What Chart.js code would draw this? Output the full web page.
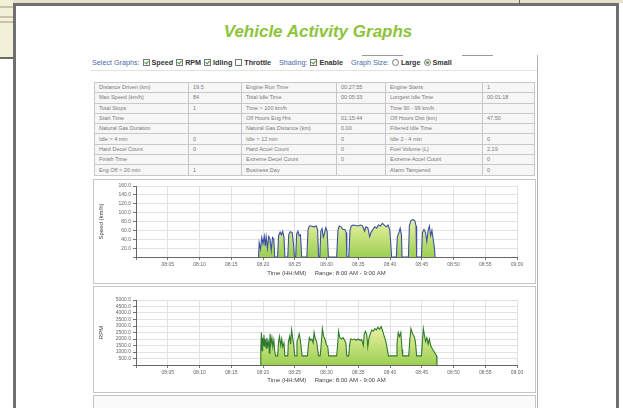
<!DOCTYPE html>
<html><head><meta charset="utf-8">
<script src="https://cdn.jsdelivr.net/npm/chart.js@4/dist/chart.umd.min.js"></script>
<style>
body{margin:0;width:623px;height:408px;overflow:hidden;background:#fff;font-family:"Liberation Sans",Arial,sans-serif;position:relative}
.a{position:absolute}
#frame{left:13px;top:3px;width:606px;height:430px;border:3px solid #707070;box-sizing:border-box;background:#fff}
#title{left:0;width:636px;top:22px;text-align:center;font-weight:bold;font-style:italic;font-size:17px;color:#8cc43c}
#sel{left:92px;top:58px;font-size:7.2px;white-space:nowrap;color:#333;letter-spacing:0}
#sel .b{color:#4a6aa8}
#sel .l{font-weight:bold;color:#333}
#sel .g{display:inline-block;width:8px}
.cb{display:inline-block;width:5px;height:5px;border:1px solid #777;vertical-align:-1px;margin:0 2px 0 3px;position:relative;background:#fff}
.cb.on::after{content:"";position:absolute;left:1px;top:0px;width:2px;height:3px;border:solid #3c9a3c;border-width:0 1px 1px 0;transform:rotate(40deg)}
.rb{display:inline-block;width:5px;height:5px;border:1px solid #777;border-radius:50%;vertical-align:-1px;margin:0 2px 0 3px;position:relative}
.rb.on::after{content:"";position:absolute;left:1px;top:1px;width:3px;height:3px;border-radius:50%;background:#5aa04a}
table{border-collapse:collapse;position:absolute;left:94px;top:82px;width:440px;table-layout:fixed;border:1px solid #b8b8b8}
td{border:1px solid #c8c8c8;height:9.3px;padding:0 0 0 4px;font-size:5.5px;color:#7a7a7a;white-space:nowrap;overflow:hidden;background:#f6f6f6;line-height:9px}
.panel{border:1px solid #c6c6c6;background:#fff;box-sizing:border-box}
</style></head>
<body>
<div class="a" style="left:0;top:0;width:623px;height:3px;background:#e6e2cc"></div>
<div class="a" style="left:519px;top:0;width:1px;height:3px;background:#666"></div>
<div class="a" style="left:0;top:0;width:13px;height:57px;background:#f3f0d8"></div>
<div class="a" style="left:0;top:6px;width:13px;height:2px;background:#c8c4aa"></div>
<div class="a" style="left:0;top:16px;width:13px;height:2px;background:#c8c4aa"></div>
<div class="a" style="left:0;top:21px;width:13px;height:2px;background:#c8c4aa"></div>
<div class="a" style="left:0;top:57px;width:13px;height:2px;background:#6a6a6a"></div>
<div class="a" id="frame"></div>
<div class="a" id="title">Vehicle Activity Graphs</div>
<div class="a" style="left:362px;top:55px;width:41px;height:1px;background:#9a9a9a"></div>
<div class="a" style="left:462px;top:55px;width:31px;height:1px;background:#9a9a9a"></div>
<div class="a" style="left:537px;top:55px;width:1px;height:360px;background:#b0b0b0"></div>
<div class="a" style="left:90px;top:70px;width:447px;height:1px;background:#e2e2e2"></div>
<div class="a" id="sel"><span class="b">Select Graphs:</span><span class="cb on"></span><span class="l">Speed</span><span class="cb on"></span><span class="l">RPM</span><span class="cb on"></span><span class="l">Idling</span><span class="cb"></span><span class="l">Throttle</span><span class="g"></span><span class="b">Shading:</span><span class="cb on"></span><span class="l">Enable</span><span class="g"></span><span class="b">Graph Size:</span><span class="rb"></span><span class="l">Large</span><span class="rb on"></span><span class="l">Small</span></div>
<table id="stats"><colgroup><col style="width:94px"><col style="width:53px"><col style="width:95px"><col style="width:49px"><col style="width:97px"><col style="width:52px"></colgroup><tbody></tbody></table>
<div class="a panel" style="left:93px;top:179px;width:443px;height:105px"></div>
<div class="a panel" style="left:93px;top:286px;width:443px;height:107px"></div>
<div class="a panel" style="left:93px;top:395px;width:443px;height:30px;background:#fafafa"></div>
<div class="a" style="left:94px;top:180px;width:441px;height:102px"><canvas id="c1"></canvas></div>
<div class="a" style="left:94px;top:288px;width:441px;height:103px"><canvas id="c2"></canvas></div>
<script>
// ---- table data ----
const statLabels1 = ["Distance Driven (km)","Max Speed (km/h)","Total Stops","Start Time","Natural Gas Duration","Idle > 4 min","Hard Decel Count","Finish Time","Eng Off > 20 min"];
const statValues1 = ["19.5","84","1","","","0","0","","1"];
const statLabels2 = ["Engine Run Time","Total Idle Time","Time > 100 km/h","Off Hours Eng Hrs","Natural Gas Distance (km)","Idle > 12 min","Hard Accel Count","Extreme Decel Count","Business Day"];
const statValues2 = ["00:27:55","00:05:33","","01:15:44","0.00","0","0","0",""];
const statLabels3 = ["Engine Starts","Longest Idle Time","Time 90 - 99 km/h","Off Hours Dist (km)","Filtered Idle Time","Idle 2 - 4 min","Fuel Volume (L)","Extreme Accel Count","Alarm Tampered"];
const statValues3 = ["1","00:01:18","","47.50","","0","2.19","0","0"];

// ---- chart data (minutes after 08:00) ----
const timeTickLabels = ["08:05","08:10","08:15","08:20","08:25","08:30","08:35","08:40","08:45","08:50","08:55","09:00"];
const speedTickLabels = ["20.0","40.0","60.0","80.0","100.0","120.0","140.0","160.0"];
const rpmTickLabels = ["500.0","1000.0","1500.0","2000.0","2500.0","3000.0","3500.0","4000.0","4500.0","5000.0"];

const speedTimes = [19.3,19.4,19.6,19.8,20.0,20.2,20.35,20.5,20.7,20.9,21.1,21.3,21.5,21.7,21.85,22.3,22.45,22.7,22.9,23.1,23.3,23.45,23.9,24.05,24.3,24.6,24.8,24.95,25.15,25.3,25.5,25.7,25.9,26.1,26.9,27.1,27.3,27.6,28.0,28.4,28.6,28.75,28.95,29.1,29.3,29.5,29.7,29.9,30.1,30.3,31.6,31.8,32.0,32.3,32.6,32.9,33.1,33.2,33.5,33.7,33.9,34.2,34.6,35.0,35.3,35.6,35.8,36.0,36.2,36.5,36.8,37.0,37.3,37.6,37.9,38.2,38.5,38.8,39.1,39.4,39.7,39.95,40.1,40.25,41.0,41.15,41.4,41.6,41.8,41.9,42.9,43.05,43.3,43.6,43.9,44.1,44.2,44.95,45.1,45.35,45.6,45.8,46.0,46.2,46.4,46.6,46.8,47.0,47.1];
const speedValues = [0,32,18,44,30,47,25,46,20,46,40,15,44,40,0,0,48,56,50,58,45,0,0,50,57,55,30,0,0,52,58,48,50,0,0,62,70,70,68,70,60,0,0,58,64,45,55,66,58,0,0,60,70,68,62,62,55,0,0,60,70,72,71,70,72,71,66,58,68,66,46,55,62,68,65,72,70,76,72,68,72,62,35,0,0,45,55,65,50,0,0,70,82,84,82,70,0,0,55,62,55,35,60,70,48,60,40,20,0];

const rpmTimes = [19.6,19.65,19.75,19.85,19.95,20.05,20.15,20.25,20.35,20.5,20.6,20.75,20.9,21.0,21.1,21.25,21.4,21.55,21.7,21.85,22.0,22.3,22.45,22.6,22.8,22.95,23.1,23.3,23.45,23.9,24.0,24.2,24.35,24.5,24.7,24.85,25.0,25.2,25.35,25.55,25.7,25.85,26.0,26.15,27.0,27.15,27.3,27.5,27.7,27.9,28.05,28.25,28.45,28.6,28.75,29.0,29.15,29.35,29.55,29.75,29.95,30.2,30.35,31.6,31.75,31.9,32.1,32.35,32.6,32.85,33.05,33.2,33.5,33.65,33.8,34.1,34.4,34.7,35.0,35.3,35.55,35.8,35.95,36.15,36.35,36.5,36.7,36.9,37.15,37.4,37.6,37.85,38.1,38.35,38.6,38.85,39.1,39.35,39.55,39.75,41.0,41.1,41.3,41.5,41.7,41.9,42.0,42.95,43.1,43.3,43.55,43.8,44.0,44.2,44.95,45.1,45.25,45.45,45.6,45.8,46.0,46.2,46.4,46.6,46.85,47.1,47.35,47.4];
const rpmValues = [0,1200,2500,1100,2100,1500,2300,1400,2000,1300,2100,1500,1800,900,2400,1600,2100,1400,1900,1000,700,700,1800,2200,1500,2000,1400,1700,700,700,1800,2200,1600,2700,2000,1500,700,700,1800,2100,2400,2000,1400,700,700,1500,2100,1900,2000,1700,2500,2000,1800,1200,700,700,1500,2800,2200,2000,1600,1400,700,700,1500,2600,2100,2000,2100,1900,1700,700,700,1600,2000,1950,2000,1900,2000,1900,1950,1500,2400,2600,2300,1400,2100,2400,2700,2600,2800,2700,2900,2750,2950,2600,2200,1800,1300,700,700,1600,2500,2200,2500,1200,700,700,1800,2800,2400,2200,1800,700,700,1800,2800,2200,1800,2100,1600,2000,1500,1300,1100,900,700,0];

// build table
const tb = document.querySelector('#stats tbody');
statLabels1.forEach((l, i) => {
  const tr = document.createElement('tr');
  [l, statValues1[i], statLabels2[i], statValues2[i], statLabels3[i], statValues3[i]].forEach(t => {
    const td = document.createElement('td'); td.textContent = t; tr.appendChild(td);
  });
  tb.appendChild(tr);
});

Chart.defaults.font.family = '"Liberation Sans", Arial, sans-serif';
Chart.defaults.animation = false;

function grad(topFrac, lineTopColor) {
  return (ctx) => {
    const ch = ctx.chart, a = ch.chartArea;
    if (!a) return '#b8dc70';
    const g = ch.ctx.createLinearGradient(0, a.bottom, 0, a.bottom - (a.bottom - a.top) * topFrac);
    g.addColorStop(0, '#9ccf52');
    g.addColorStop(1, lineTopColor);
    return g;
  };
}

function makeChart(id, times, values, lineColor, yMax, yStep, yTickLabels, yTitle, topPad, xH, botPad, fillTop) {
  const tickIdx = v => Math.round(v / yStep) - 1;
  return new Chart(document.getElementById(id), {
    type: 'line',
    data: { datasets: [{
      data: times.map((t, i) => ({ x: t, y: values[i] })),
      borderColor: lineColor, borderWidth: 1.1, pointRadius: 0, tension: 0,
      fill: 'origin', backgroundColor: grad(fillTop, '#eef3a6')
    }]},
    options: {
      responsive: true, maintainAspectRatio: false,
      layout: { padding: { left: 0, right: 18, top: topPad, bottom: botPad } },
      plugins: { legend: { display: false }, tooltip: { enabled: false } },
      scales: {
        x: {
          type: 'linear', min: 0, max: 60,
          afterFit: s => { s.height = xH; },
          ticks: { stepSize: 5, autoSkip: false, maxRotation: 0, padding: 2, color: '#666', font: { size: 5 },
            callback: v => { const i = Math.round(v / 5); return i === 0 ? '' : timeTickLabels[i - 1]; } },
          grid: { color: '#e2e2e2', tickLength: 3, tickColor: '#777', lineWidth: 1 },
          border: { color: '#666', width: 1 },
          title: { display: true, text: 'Time (HH:MM)     Range: 8:00 AM - 9:00 AM', color: '#444', font: { size: 6 }, padding: { top: 0, bottom: 0 } }
        },
        y: {
          min: 0, max: yMax,
          afterFit: s => { s.width = 42; },
          ticks: { stepSize: yStep, autoSkip: false, padding: 2, color: '#666', font: { size: 5 },
            callback: v => { const i = tickIdx(v); return i < 0 ? '' : yTickLabels[i]; } },
          grid: { color: '#e2e2e2', tickLength: 3, tickColor: '#777' },
          border: { color: '#666', width: 1 },
          title: { display: true, text: yTitle, color: '#444', font: { size: 6 }, padding: { top: 3.4, bottom: 0 } }
        }
      }
    }
  });
}

makeChart('c1', speedTimes, speedValues, '#3b50a3', 160, 20, speedTickLabels, 'Speed (km/h)', 6, 20, 5, 0.55);
makeChart('c2', rpmTimes, rpmValues, '#2f7a2f', 5000, 500, rpmTickLabels, 'RPM', 12, 19, 7, 0.6);
</script>
</body></html>
